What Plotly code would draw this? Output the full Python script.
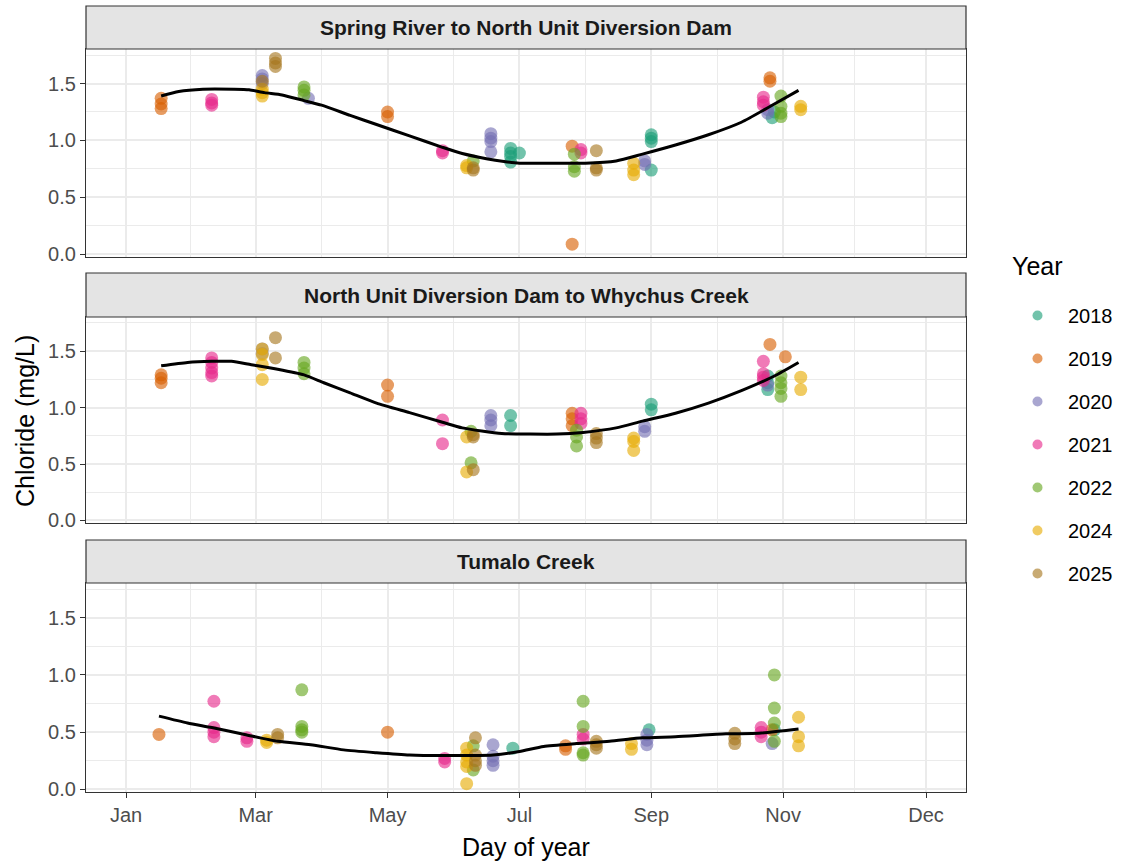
import plotly.graph_objects as go

# ---------------------------------------------------------------- data
years = ["2018", "2019", "2020", "2021", "2022", "2024", "2025"]
year_colors = ["#1B9E77", "#D95F02", "#7570B3", "#E7298A", "#66A61E", "#E6AB02", "#A6761D"]

sites = [
    "Spring River to North Unit Diversion Dam",
    "North Unit Diversion Dam to Whychus Creek",
    "Tumalo Creek",
]

# Spring River to North Unit Diversion Dam
sr_year = (["2019"] * 9 + ["2021"] * 10 + ["2020"] * 12 + ["2024"] * 10
           + ["2025"] * 9 + ["2022"] * 11 + ["2018"] * 11)
sr_day = [17, 17, 17, 120, 120, 204, 204, 294, 294,
          40, 40, 40, 145, 145, 208, 208, 291, 291, 291,
          63, 63, 63, 84, 167, 167, 167, 167, 237, 237, 293, 293,
          63, 63, 63, 156, 156, 232, 232, 232, 308, 308,
          69, 69, 69, 63, 159, 159, 215, 215, 215,
          82, 82, 82, 159, 205, 205, 205, 299, 299, 299, 299,
          176, 176, 176, 180, 176, 240, 240, 240, 240, 295, 296]
sr_chloride = [1.37, 1.32, 1.28, 1.25, 1.21, 0.95, 0.09, 1.55, 1.52,
               1.36, 1.33, 1.31, 0.91, 0.89, 0.92, 0.89, 1.38, 1.34, 1.31,
               1.57, 1.54, 1.50, 1.37, 1.06, 1.02, 0.99, 0.90, 0.82, 0.79, 1.27, 1.24,
               1.42, 1.39, 1.45, 0.78, 0.76, 0.80, 0.74, 0.70, 1.30, 1.27,
               1.72, 1.68, 1.65, 1.52, 0.76, 0.74, 0.91, 0.76, 0.74,
               1.47, 1.44, 1.40, 0.82, 0.88, 0.77, 0.73, 1.39, 1.30, 1.24, 1.21,
               0.93, 0.89, 0.86, 0.89, 0.81, 1.05, 1.02, 0.99, 0.74, 1.20, 1.25]

# North Unit Diversion Dam to Whychus Creek
nw_year = (["2019"] * 10 + ["2021"] * 14 + ["2020"] * 8 + ["2024"] * 11
           + ["2025"] * 8 + ["2022"] * 12 + ["2018"] * 7)
nw_day = [17, 17, 17, 120, 120, 204, 204, 204, 294, 301,
          40, 40, 40, 40, 40, 145, 145, 208, 208, 208, 291, 291, 291, 291,
          63, 63, 167, 167, 167, 237, 237, 293,
          63, 63, 63, 63, 156, 156, 232, 232, 232, 308, 308,
          69, 69, 159, 159, 159, 215, 215, 215,
          82, 82, 82, 158, 158, 206, 206, 206, 299, 299, 299, 299,
          176, 176, 240, 240, 293, 293, 293]
nw_chloride = [1.29, 1.26, 1.22, 1.20, 1.10, 0.95, 0.90, 0.84, 1.56, 1.45,
               1.44, 1.40, 1.35, 1.31, 1.28, 0.89, 0.68, 0.95, 0.90, 0.86, 1.41, 1.30, 1.27, 1.24,
               1.52, 1.48, 0.93, 0.89, 0.84, 0.83, 0.79, 1.20,
               1.52, 1.47, 1.38, 1.25, 0.74, 0.43, 0.73, 0.70, 0.62, 1.27, 1.16,
               1.62, 1.44, 0.76, 0.74, 0.45, 0.77, 0.73, 0.69,
               1.40, 1.35, 1.30, 0.79, 0.51, 0.80, 0.74, 0.66, 1.28, 1.22, 1.17, 1.10,
               0.93, 0.84, 1.03, 0.98, 1.28, 1.22, 1.16]

# Tumalo Creek
tc_year = (["2019"] * 5 + ["2021"] * 13 + ["2024"] * 12 + ["2025"] * 12
           + ["2022"] * 14 + ["2020"] * 8 + ["2018"] * 3)
tc_day = [16, 120, 201, 201, 295,
          41, 41, 41, 41, 56, 56, 146, 146, 209, 209, 290, 290, 290,
          65, 65, 156, 156, 156, 156, 156, 231, 231, 307, 307, 307,
          70, 70, 160, 160, 160, 160, 215, 215, 215, 278, 278, 278,
          81, 81, 81, 81, 159, 159, 209, 209, 209, 209, 296, 296, 296, 296,
          168, 168, 168, 168, 238, 238, 238, 295,
          177, 239, 296]
tc_chloride = [0.48, 0.50, 0.35, 0.38, 0.52,
               0.77, 0.54, 0.50, 0.46, 0.45, 0.42, 0.27, 0.24, 0.48, 0.44, 0.54, 0.50, 0.46,
               0.41, 0.43, 0.36, 0.30, 0.24, 0.20, 0.05, 0.40, 0.35, 0.63, 0.46, 0.38,
               0.48, 0.45, 0.45, 0.30, 0.25, 0.21, 0.42, 0.39, 0.36, 0.49, 0.44, 0.40,
               0.87, 0.55, 0.52, 0.50, 0.38, 0.17, 0.77, 0.55, 0.32, 0.30, 1.00, 0.71, 0.58, 0.42,
               0.39, 0.29, 0.25, 0.21, 0.48, 0.43, 0.39, 0.40,
               0.36, 0.52, 0.52]

# Loess-smoothed seasonal trend for each reach
sr_fit_day = [17, 25, 36, 50, 57, 64, 72, 82, 90, 103, 115, 130, 145, 154, 165, 173,
              180, 195, 210, 224, 236, 251, 266, 281, 296, 307]
sr_fit = [1.39, 1.43, 1.45, 1.45, 1.445, 1.42, 1.40, 1.35, 1.31, 1.22, 1.14, 1.04, 0.94,
          0.885, 0.84, 0.815, 0.80, 0.80, 0.80, 0.82, 0.88, 0.96, 1.05, 1.16, 1.32, 1.44]
nw_fit_day = [17, 29, 40, 49, 58, 70, 82, 91, 103, 115, 130, 145, 154, 172, 185, 197,
              209, 224, 236, 251, 266, 281, 296, 307]
nw_fit = [1.37, 1.40, 1.41, 1.41, 1.38, 1.34, 1.29, 1.22, 1.13, 1.04, 0.955, 0.87, 0.82,
          0.77, 0.765, 0.765, 0.78, 0.82, 0.88, 0.95, 1.04, 1.15, 1.28, 1.40]
tc_fit_day = [16, 29, 40, 55, 70, 85, 100, 115, 130, 145, 168, 180, 191, 206, 221, 236,
              251, 274, 289, 307]
tc_fit = [0.64, 0.58, 0.54, 0.48, 0.42, 0.39, 0.345, 0.32, 0.30, 0.295, 0.30, 0.33, 0.375,
          0.40, 0.42, 0.45, 0.46, 0.485, 0.49, 0.527]

month_ticks = [1, 60, 120, 180, 240, 300, 365]
month_labels = ["Jan", "Mar", "May", "Jul", "Sep", "Nov", "Dec"]
y_ticks = [0, 0.5, 1.0, 1.5]
y_labels = ["0.0", "0.5", "1.0", "1.5"]

site_data = [
    (sr_year, sr_day, sr_chloride, sr_fit_day, sr_fit),
    (nw_year, nw_day, nw_chloride, nw_fit_day, nw_fit),
    (tc_year, tc_day, tc_chloride, tc_fit_day, tc_fit),
]

# ---------------------------------------------------------------- layout geometry
W, H = 1125, 865
M_L, M_R, M_T, M_B = 86, 159, 6, 73
plot_w = W - M_L - M_R
plot_h = H - M_T - M_B


def py(px):
    """Convert a pixel row to paper y."""
    return (H - M_B - px) / plot_h


def pxx(px):
    """Convert a pixel column to paper x."""
    return (px - M_L) / plot_w


panel_px = [(49, 257), (317, 523), (583, 792)]   # (top, bottom) of each panel
strip_px = [(6, 49), (273, 317), (540, 583)]

FONT = "Liberation Sans, Arial, sans-serif"
GRID = "#EBEBEB"
BORDER = "#333333"

fig = go.Figure()

for i, (yr, day, val, fday, fval) in enumerate(site_data):
    ax = "" if i == 0 else str(i + 1)
    for y_name, col in zip(years, year_colors):
        xs = [d for d, g in zip(day, yr) if g == y_name]
        ys = [v for v, g in zip(val, yr) if g == y_name]
        if not xs:
            continue
        fig.add_trace(go.Scatter(
            x=xs, y=ys, mode="markers", xaxis="x" + ax, yaxis="y" + ax,
            marker=dict(size=13, color=col, opacity=0.62, line=dict(width=0)),
            showlegend=False, hoverinfo="skip"))
    fig.add_trace(go.Scatter(
        x=fday, y=fval, mode="lines", xaxis="x" + ax, yaxis="y" + ax,
        line=dict(color="black", width=3, shape="spline", smoothing=0.6),
        showlegend=False, hoverinfo="skip"))

# legend entries
for y_name, col in zip(years, year_colors):
    fig.add_trace(go.Scatter(
        x=[None], y=[None], mode="markers", name=y_name, legendgroup=y_name,
        marker=dict(size=10, color=col, opacity=0.62)))

axis_common = dict(
    range=[-17.2, 383.2], tickvals=month_ticks, ticktext=month_labels,
    showgrid=True, gridcolor=GRID, gridwidth=1.8, zeroline=False,
    showline=True, linecolor=BORDER, linewidth=1.2, mirror=True,
    minor=dict(tickvals=[30.5, 90, 150, 210, 270, 332.5], showgrid=True,
               gridcolor=GRID, gridwidth=1, ticks=""),
    tickfont=dict(family=FONT, size=20, color="#4D4D4D"),
    domain=[0, 1],
)
yaxis_common = dict(
    range=[-0.023, 1.803], tickvals=y_ticks, ticktext=y_labels,
    showgrid=True, gridcolor=GRID, gridwidth=1.8, zeroline=False,
    showline=True, linecolor=BORDER, linewidth=1.2, mirror=True,
    ticks="outside", ticklen=5, tickcolor=BORDER, tickwidth=1.2,
    minor=dict(tickvals=[0.25, 0.75, 1.25, 1.75], showgrid=True,
               gridcolor=GRID, gridwidth=1, ticks=""),
    tickfont=dict(family=FONT, size=20, color="#4D4D4D"),
)

layout = dict(
    width=W, height=H,
    margin=dict(l=M_L, r=M_R, t=M_T, b=M_B),
    paper_bgcolor="white", plot_bgcolor="white",
    font=dict(family=FONT, color="black"),
    showlegend=True,
    legend=dict(
        font=dict(family=FONT, size=20, color="black"),
        x=pxx(1007), xanchor="left", y=py(296), yanchor="top",
        tracegroupgap=14, itemwidth=51, bgcolor="rgba(0,0,0,0)",
    ),
    shapes=[], annotations=[],
)

for i in range(3):
    ax = "" if i == 0 else str(i + 1)
    top, bot = panel_px[i]
    xa = dict(axis_common)
    xa["anchor"] = "y" + ax
    if i < 2:
        xa["showticklabels"] = False
        xa["ticks"] = ""
    else:
        xa["ticks"] = "outside"
        xa["ticklen"] = 5
        xa["tickcolor"] = BORDER
        xa["tickwidth"] = 1.2
    ya = dict(yaxis_common)
    ya["domain"] = [py(bot), py(top)]
    ya["anchor"] = "x" + ax
    layout["xaxis" + ax] = xa
    layout["yaxis" + ax] = ya

    s_top, s_bot = strip_px[i]
    layout["shapes"].append(dict(
        type="rect", xref="paper", yref="paper", x0=0, x1=1,
        y0=py(s_bot), y1=py(s_top), fillcolor="#E4E4E4",
        line=dict(color=BORDER, width=1.2), layer="above"))
    layout["annotations"].append(dict(
        text="<b>" + sites[i] + "</b>", xref="paper", yref="paper",
        x=0.5, y=py((s_top + s_bot) / 2), xanchor="center", yanchor="middle",
        showarrow=False, font=dict(family=FONT, size=21, color="#1A1A1A")))

layout["annotations"].append(dict(
    text="Year", xref="paper", yref="paper",
    x=pxx(1010), y=py(266), xanchor="left", yanchor="middle",
    showarrow=False, font=dict(family=FONT, size=25, color="black")))
layout["annotations"].append(dict(
    text="Chloride (mg/L)", xref="paper", yref="paper",
    x=pxx(25), y=py(421), textangle=-90,
    xanchor="center", yanchor="middle", showarrow=False,
    font=dict(family=FONT, size=25, color="black")))
layout["annotations"].append(dict(
    text="Day of year", xref="paper", yref="paper",
    x=0.5, y=py(847), xanchor="center", yanchor="middle", showarrow=False,
    font=dict(family=FONT, size=25, color="black")))

fig.update_layout(**layout)
fig.write_html("out.html")
